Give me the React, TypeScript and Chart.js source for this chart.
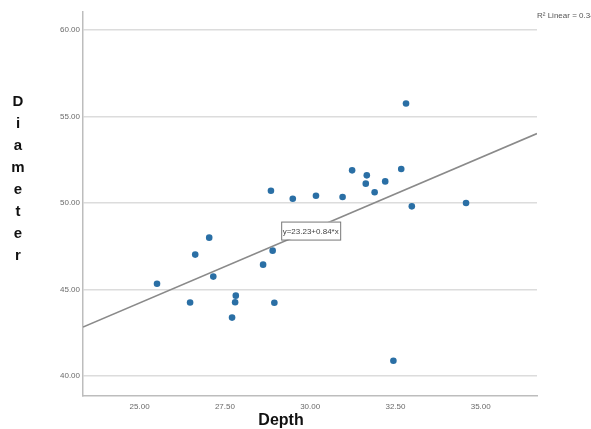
import React, { useEffect, useRef } from "react";
import { Chart, registerables } from "chart.js";

Chart.register(...registerables);

const depthValues = [25.51, 26.48, 26.63, 27.04, 27.16, 27.71, 27.82, 27.8, 28.62, 28.9, 28.95, 28.85, 29.49, 30.17, 30.95, 31.23, 31.66, 31.63, 31.89, 32.2, 32.67, 32.81, 32.98, 34.57, 32.44];
const diameterValues = [45.34, 44.25, 47.02, 48.0, 45.75, 43.38, 44.65, 44.27, 46.44, 47.25, 44.24, 50.71, 50.25, 50.42, 50.35, 51.89, 51.6, 51.12, 50.62, 51.25, 51.97, 55.75, 49.81, 50.0, 40.89];
const xTicks = [25, 27.5, 30, 32.5, 35];
const yTicks = [40, 45, 50, 55, 60];
const xRange = [23.34, 36.65];
const yRange = [38.85, 61.04];
const fitIntercept = 23.23;
const fitSlope = 0.84;
const fitLabelX = 29.15;
const equationText = "y=23.23+0.84*x";
const r2Text = "R\u00B2 Linear = 0.346";
const xTitle = "Depth";
const yTitle = "Diameter";

const tickFont = { family: "'Liberation Sans Narrow', 'Liberation Sans', Arial, sans-serif", size: 8 };

export default function App() {
  const ref = useRef<HTMLCanvasElement | null>(null);
  useEffect(() => {
    if (!ref.current) return;
    const overlay = {
      id: "overlay",
      afterDraw(chart: any) {
        const ctx = chart.ctx;
        const xs = chart.scales.x;
        const ys = chart.scales.y;
        ctx.save();
        // equation box
        const px = xs.getPixelForValue(fitLabelX);
        const py = ys.getPixelForValue(fitIntercept + fitSlope * fitLabelX);
        ctx.font = "8px 'Liberation Sans Narrow', 'Liberation Sans', Arial, sans-serif";
        const w = 59;
        const h = 18;
        const bx = px;
        const by = py - 3 - h;
        ctx.fillStyle = "#ffffff";
        ctx.fillRect(bx, by, w, h);
        ctx.strokeStyle = "#777";
        ctx.lineWidth = 1;
        ctx.strokeRect(bx + 0.5, by + 0.5, w, h);
        ctx.fillStyle = "#444";
        ctx.textAlign = "center";
        ctx.textBaseline = "middle";
        ctx.fillText(equationText, bx + w / 2, by + h / 2 + 1);
        // R2 text
        ctx.font = "8px 'Liberation Sans Narrow', 'Liberation Sans', Arial, sans-serif";
        ctx.textAlign = "left";
        ctx.fillStyle = "#555";
        ctx.fillText(r2Text, 537, 16);
        // x title
        ctx.font = "bold 16px 'Liberation Sans', Arial, sans-serif";
        ctx.fillStyle = "#111";
        ctx.textAlign = "center";
        ctx.fillText(xTitle, 281, 421);
        // y title stacked
        ctx.font = "bold 15px 'Liberation Sans', Arial, sans-serif";
        const letters = yTitle.split("");
        letters.forEach((ch, i) => {
          ctx.fillText(ch, 18, 102 + i * 22);
        });
        ctx.restore();
      },
    };
    const chart = new Chart(ref.current, {
      type: "scatter",
      data: {
        datasets: [
          {
            type: "line",
            data: xRange.map((x) => ({ x, y: fitIntercept + fitSlope * x })),
            borderColor: "#8a8a8a",
            borderWidth: 1.6,
            pointRadius: 0,
            fill: false,
          } as any,
          {
            data: depthValues.map((x, i) => ({ x, y: diameterValues[i] })),
            backgroundColor: "#2a6fa5",
            borderColor: "#2a6fa5",
            pointRadius: 3.3,
            borderWidth: 0,
          },
        ],
      },
      plugins: [overlay],
      options: {
        animation: false,
        responsive: false,
        layout: { padding: { top: 12, right: 54, left: 0, bottom: 0 } },
        plugins: { legend: { display: false }, tooltip: { enabled: false } },
        scales: {
          x: {
            type: "linear",
            min: xRange[0],
            max: xRange[1],
            afterFit: (s: any) => { s.height = 33; },
            afterBuildTicks: (s: any) => { s.ticks = xTicks.map((v) => ({ value: v })); },
            grid: { display: false, drawTicks: false },
            border: { display: true, color: "#bdbdbd", width: 1.5 },
            ticks: { font: tickFont, color: "#6a6a6a", padding: 6, maxRotation: 0, callback: (v: any) => Number(v).toFixed(2) },
          },
          y: {
            type: "linear",
            min: yRange[0],
            max: yRange[1],
            afterFit: (s: any) => { s.width = 83; },
            afterBuildTicks: (s: any) => { s.ticks = yTicks.map((v) => ({ value: v })); },
            grid: { display: true, drawTicks: false, color: "#dcdcdc", lineWidth: 1.5 },
            border: { display: true, color: "#bdbdbd", width: 1.5 },
            ticks: { font: tickFont, color: "#6a6a6a", padding: 3, callback: (v: any) => Number(v).toFixed(2) },
          },
        },
      },
    });
    return () => chart.destroy();
  }, []);
  return (
    <div style={{ position: "absolute", left: 0, top: 0, width: 591, height: 429, background: "#fff" }}>
      <canvas ref={ref} width={591} height={429} />
    </div>
  );
}
